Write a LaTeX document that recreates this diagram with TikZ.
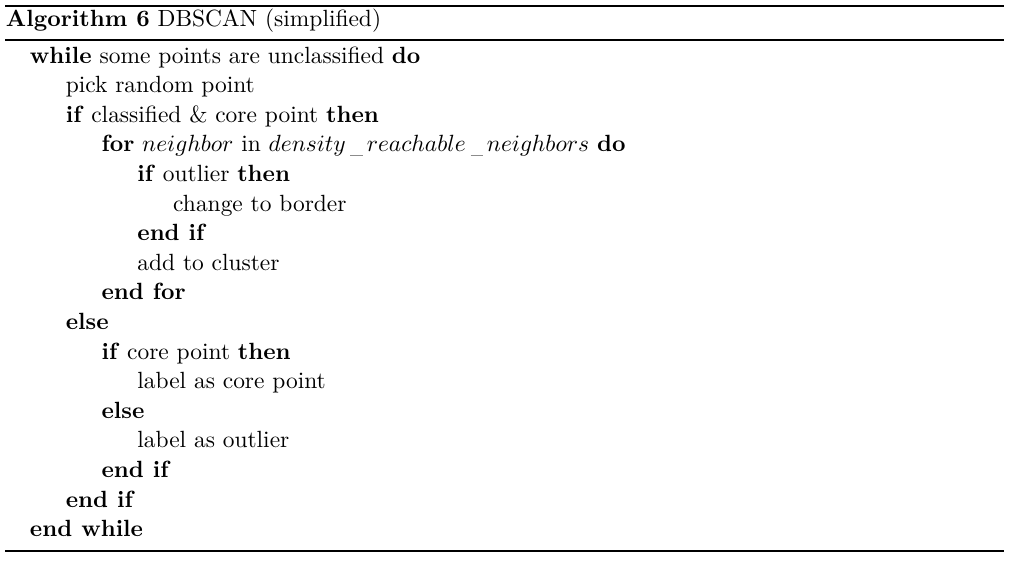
\documentclass[tikz,border=0pt]{standalone}
\usepackage{amsmath}
\usepackage{tikz}

\tikzset{
  algline/.style={anchor=base west, inner sep=0pt, outer sep=0pt},
  toprule/.style={line width=0.85pt},
  midrule/.style={line width=0.5pt},
}
\newcommand{\kw}[1]{\textbf{#1}}
\newcommand{\us}{\kern.2em\raisebox{-2pt}{\color{black!45}\rule{0.55em}{0.5pt}}\kern.15em}

\begin{document}
\begin{tikzpicture}[x=0.4265pt, y=-0.4265pt]
                \useasboundingbox (0,0) rectangle (1010,560);

                % Rules
                \coordinate (topL) at (5,6);
                \coordinate (topR) at (1004,6);
                \coordinate (midL) at (5,40);
                \coordinate (midR) at (1004,40);
                \coordinate (botL) at (5,551);
                \coordinate (botR) at (1004,551);
                \draw[toprule] (topL) -- (topR);
                \draw[midrule] (midL) -- (midR);
                \draw[midrule] (botL) -- (botR);

                % Caption
                \node[algline] (caption) at (6,26) {\kw{Algorithm 6} DBSCAN (simplified)};

                % Body
                \node[algline] (l1) at (30,63) {\kw{while} some points are unclassified \kw{do}};
                \node[algline] (l2) at (65.8,92.6) {pick random point};
                \node[algline] (l3) at (65.8,122.2) {\kw{if} classified \& core point \kw{then}};
                \node[algline] (l4) at (101.6,151.8) {\kw{for} $neighbor$ in $density\us reachable\us neighbors$ \kw{do}};
                \node[algline] (l5) at (137.4,181.4) {\kw{if} outlier \kw{then}};
                \node[algline] (l6) at (173.2,211) {change to border};
                \node[algline] (l7) at (137.4,240.6) {\kw{end if}};
                \node[algline] (l8) at (137.4,270.2) {add to cluster};
                \node[algline] (l9) at (101.6,299.8) {\kw{end for}};
                \node[algline] (l10) at (65.8,329.4) {\kw{else}};
                \node[algline] (l11) at (101.6,359) {\kw{if} core point \kw{then}};
                \node[algline] (l12) at (137.4,388.6) {label as core point};
                \node[algline] (l13) at (101.6,418.2) {\kw{else}};
                \node[algline] (l14) at (137.4,447.8) {label as outlier};
                \node[algline] (l15) at (101.6,477.4) {\kw{end if}};
                \node[algline] (l16) at (65.8,507) {\kw{end if}};
                \node[algline] (l17) at (30,536.6) {\kw{end while}};
            \end{tikzpicture}
\end{document}
